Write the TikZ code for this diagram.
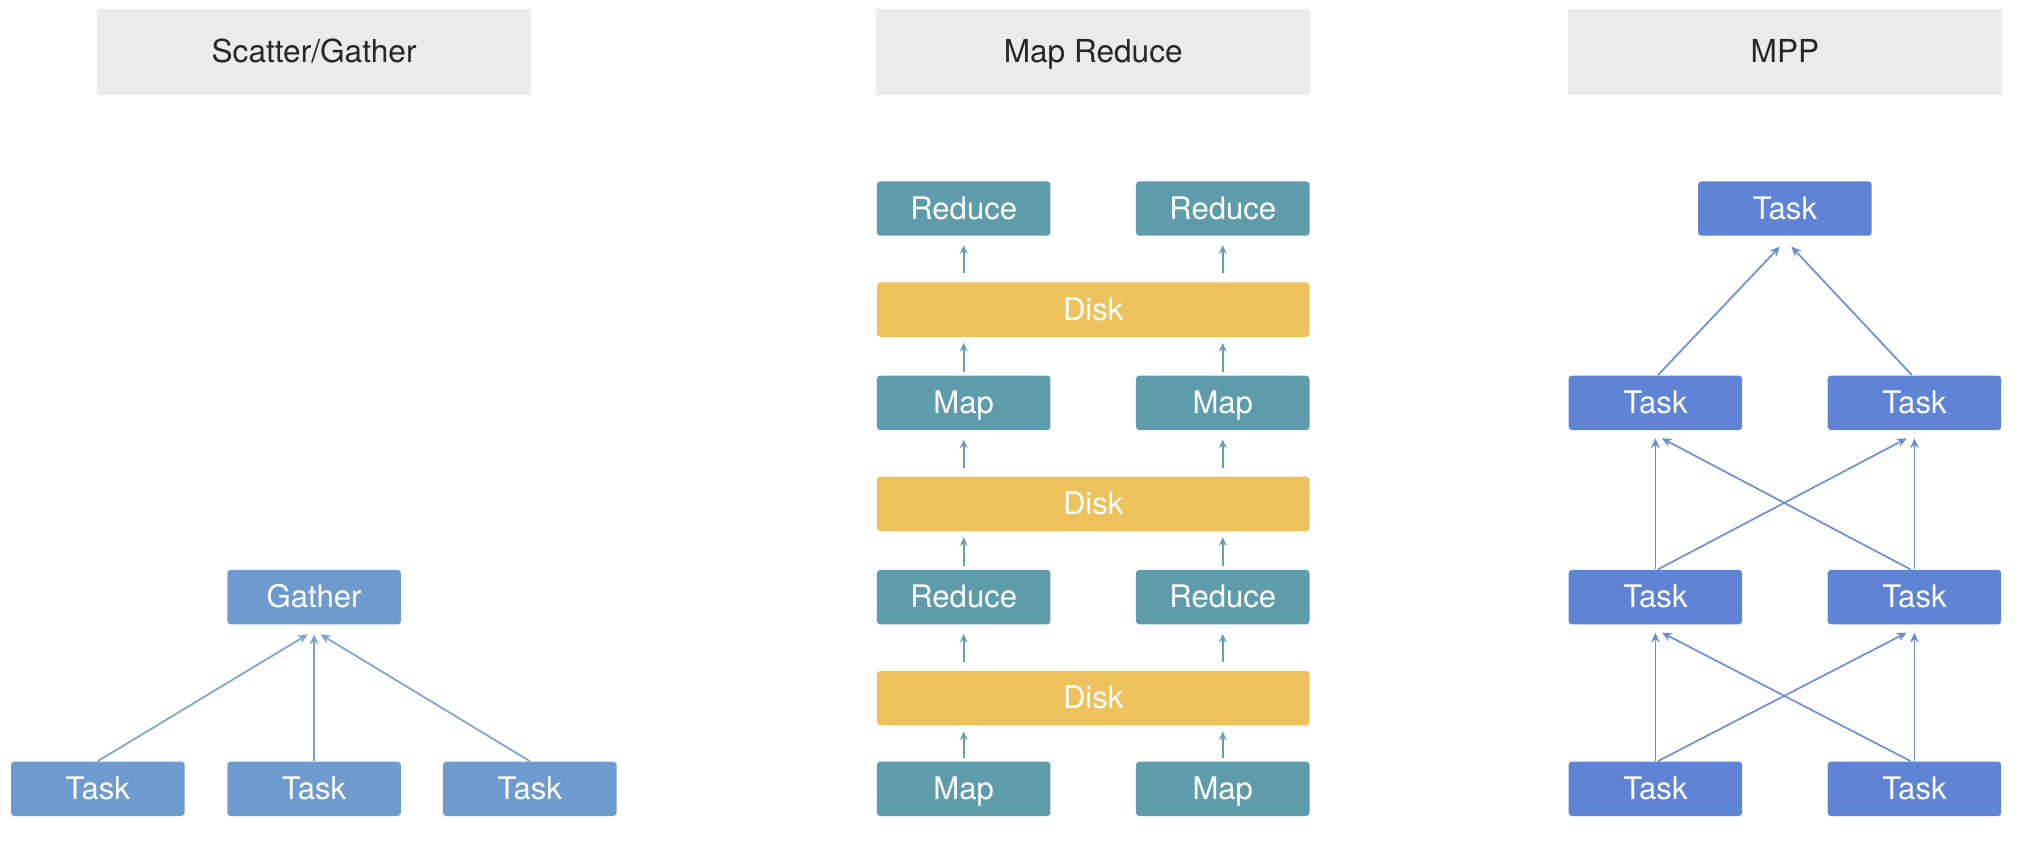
\documentclass[tikz,border=0pt]{standalone}
\usepackage{fontspec}
\setmainfont{TeX Gyre Heros}
\usetikzlibrary{arrows.meta,calc}
\definecolor{hdr}{HTML}{EBEBEB}
\definecolor{hdrtext}{HTML}{262626}
\definecolor{sgblue}{HTML}{6E9BCE}
\definecolor{sgline}{HTML}{79A2D6}
\definecolor{teal}{HTML}{5E9BAB}
\definecolor{tealline}{HTML}{64A0B0}
\definecolor{disk}{HTML}{EDC15B}
\definecolor{mppblue}{HTML}{5F83D5}
\definecolor{mppline}{HTML}{6A8DDB}
\tikzset{
  header/.style={fill=hdr, minimum width=167.5pt, minimum height=33pt, inner sep=0pt,
    text=hdrtext, font=\fontsize{12.2}{14}\selectfont, text height=0.8em, text depth=0pt},
  boxbase/.style={rounded corners=1.3pt, minimum width=67pt, minimum height=21pt, inner sep=0pt,
    text=white, font=\fontsize{12}{14}\selectfont, text height=0.82em, text depth=0pt},
  sgbox/.style={boxbase, fill=sgblue},
  mrbox/.style={boxbase, fill=teal},
  diskbox/.style={boxbase, fill=disk, minimum width=167pt},
  mppbox/.style={boxbase, fill=mppblue},
  sgarrow/.style={draw=sgline, line width=0.65pt, -{Stealth[length=3.8pt,width=3.4pt]}},
  mrarrow/.style={draw=tealline, line width=0.65pt, -{Stealth[length=3.3pt,width=3pt]}},
  mpparrow/.style={draw=mppline, line width=0.65pt, -{Stealth[length=3.8pt,width=3.4pt]}},
}
\begin{document}
\begin{tikzpicture}[x=0.5pt,y=-0.5pt]
\useasboundingbox (0,0) rectangle (1568,652.3);
% headers
\node[header] (h1) at (242.5,40) {Scatter/Gather};
\node[header] (h2) at (844,40) {Map Reduce};
\node[header] (h3) at (1378,40) {MPP};
% Scatter/Gather
\node[sgbox] (g) at (242.5,461) {Gather};
\node[sgbox] (s1) at (75.5,609) {Task};
\node[sgbox] (s2) at (242.5,609) {Task};
\node[sgbox] (s3) at (409,609) {Task};
\draw[sgarrow] (s1.north) -- ([xshift=-2.5pt,yshift=-3.7pt]g.south);
\draw[sgarrow] (s2.north) -- ([yshift=-3.7pt]g.south);
\draw[sgarrow] (s3.north) -- ([xshift=2.5pt,yshift=-3.7pt]g.south);
% Map Reduce
\node[mrbox] (r1l) at (744,161) {Reduce};
\node[mrbox] (r1r) at (944,161) {Reduce};
\node[diskbox] (d1) at (844,239) {Disk};
\node[mrbox] (m1l) at (744,311) {Map};
\node[mrbox] (m1r) at (944,311) {Map};
\node[diskbox] (d2) at (844,389) {Disk};
\node[mrbox] (r2l) at (744,461) {Reduce};
\node[mrbox] (r2r) at (944,461) {Reduce};
\node[diskbox] (d3) at (844,539) {Disk};
\node[mrbox] (m2l) at (744,609) {Map};
\node[mrbox] (m2r) at (944,609) {Map};
\foreach \lo/\hi in {d1/r1l,d1/r1r,d2/m1l,d2/m1r,d3/r2l,d3/r2r}{
  \draw[mrarrow, shorten <=3.3pt, shorten >=3.5pt] (\lo.north -| \hi.south) -- (\hi.south);
}
\foreach \lo/\hi in {m1l/d1,m1r/d1,r2l/d2,r2r/d2,m2l/d3,m2r/d3}{
  \draw[mrarrow, shorten <=1.2pt, shorten >=2.2pt] (\lo.north) -- (\lo.north |- \hi.south);
}
% MPP
\node[mppbox] (t1) at (1378,161) {Task};
\node[mppbox] (t2l) at (1278,311) {Task};
\node[mppbox] (t2r) at (1478,311) {Task};
\node[mppbox] (t3l) at (1278,461) {Task};
\node[mppbox] (t3r) at (1478,461) {Task};
\node[mppbox] (t4l) at (1278,609) {Task};
\node[mppbox] (t4r) at (1478,609) {Task};
\draw[mpparrow] ([xshift=1pt]t2l.north) -- ([xshift=-2pt,yshift=-4pt]t1.south);
\draw[mpparrow] ([xshift=-1pt]t2r.north) -- ([xshift=2.5pt,yshift=-4pt]t1.south);
\foreach \lo/\up in {t3/t2,t4/t3}{
  \draw[mpparrow] (\lo l.north) -- ([yshift=-3pt]\up l.south);
  \draw[mpparrow] (\lo r.north) -- ([yshift=-3pt]\up r.south);
  \draw[mpparrow] ([xshift=1pt]\lo l.north) -- ([xshift=-3pt,yshift=-3pt]\up r.south);
  \draw[mpparrow] ([xshift=-1.5pt]\lo r.north) -- ([xshift=2.5pt,yshift=-3pt]\up l.south);
}
\end{tikzpicture}
\end{document}
